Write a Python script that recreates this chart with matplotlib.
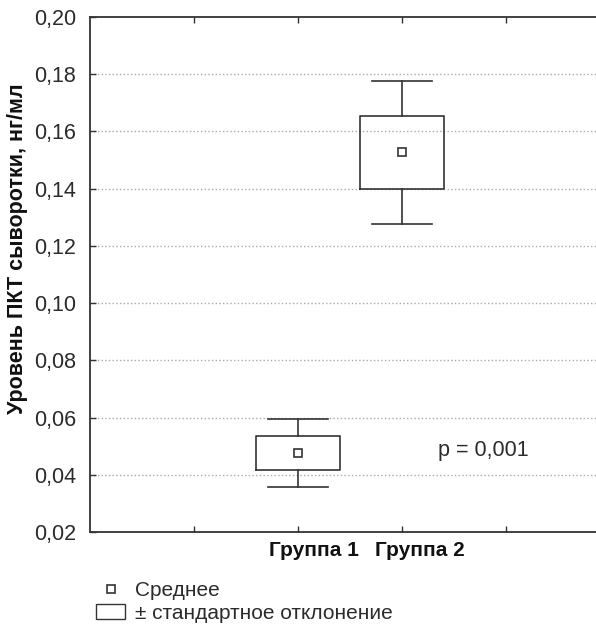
import numpy as np
import matplotlib
matplotlib.use('Agg')
import matplotlib.pyplot as plt
from matplotlib.lines import Line2D
from matplotlib.patches import Patch

plt.rcParams['font.family'] = ['Liberation Sans', 'DejaVu Sans']

groups = ['Группа 1', 'Группа 2']
means = [0.0475, 0.1527]
sd_low = [0.0416, 0.1399]
sd_high = [0.0535, 0.1655]
whisk_low = [0.0357, 0.1275]
whisk_high = [0.0594, 0.1777]
yticks = [0.02, 0.04, 0.06, 0.08, 0.10, 0.12, 0.14, 0.16, 0.18, 0.20]

dark = '#333333'
txt = '#2b2b2b'

fig = plt.figure(figsize=(5.96, 6.24), dpi=100)
ax = fig.add_axes([90 / 596, 92 / 624, 520 / 596, 515 / 624])

stats = []
for i in range(len(groups)):
    stats.append({'med': means[i], 'q1': sd_low[i], 'q3': sd_high[i],
                  'whislo': whisk_low[i], 'whishi': whisk_high[i],
                  'mean': means[i], 'label': groups[i]})

ax.bxp(stats, positions=[1, 2], widths=0.8, capwidths=0.57, showmeans=True,
       showfliers=False,
       boxprops=dict(color=dark, linewidth=1.2),
       whiskerprops=dict(color=dark, linewidth=1.2),
       capprops=dict(color=dark, linewidth=1.2),
       medianprops=dict(linewidth=0),
       meanprops=dict(marker='s', markersize=6, markerfacecolor='white',
                      markeredgecolor=dark, markeredgewidth=1.2))

ax.set_xlim(-1, 4)
ax.set_ylim(0.02, 0.20)
ax.set_yticks(yticks)
ax.set_yticklabels([('%.2f' % v).replace('.', ',') for v in yticks],
                   fontsize=15.5, color=txt)
ax.set_xticks([0, 1, 2, 3])
ax.set_xticklabels([])
ax.tick_params(axis='x', direction='in', top=True, length=4, width=1,
               color=dark)
ax.tick_params(axis='y', direction='in', length=4, width=1, color=dark, pad=10)

for v in yticks[1:-1]:
    ax.axhline(v, color='#aaaaaa', linestyle=':', linewidth=1, zorder=0)

for s in ax.spines.values():
    s.set_color(dark)
    s.set_linewidth(1.3)

# group labels sit a little right of the ticks in the original
fig.text(314 / 596, 1 - 550 / 624, groups[0], fontsize=15, fontweight='bold',
         ha='center', va='center', color='#111111')
fig.text(420 / 596, 1 - 550 / 624, groups[1], fontsize=15, fontweight='bold',
         ha='center', va='center', color='#111111')

fig.text(18 / 596, 1 - 249 / 624, 'Уровень ПКТ сыворотки, нг/мл',
         fontsize=15.5, fontweight='bold', rotation=90, ha='center',
         va='center', color='#111111')

ax.text(2.35, 0.0465, 'p = 0,001', fontsize=15.5, color=txt)

handles = [Line2D([], [], marker='s', linestyle='none', markersize=6,
                  markerfacecolor='white', markeredgecolor=dark,
                  markeredgewidth=1.2),
           Patch(facecolor='white', edgecolor=dark, linewidth=1)]
leg = fig.legend(handles, ['Среднее', '± стандартное отклонение'],
                 loc='center left', bbox_to_anchor=(96 / 596, 1 - 602 / 624),
                 frameon=False, prop={'size': 15}, handlelength=1.4,
                 handleheight=0.75, handletextpad=0.45, labelspacing=0.15,
                 borderpad=0, borderaxespad=0)
for t in leg.get_texts():
    t.set_color(txt)

fig.savefig('out.png', dpi=100)
